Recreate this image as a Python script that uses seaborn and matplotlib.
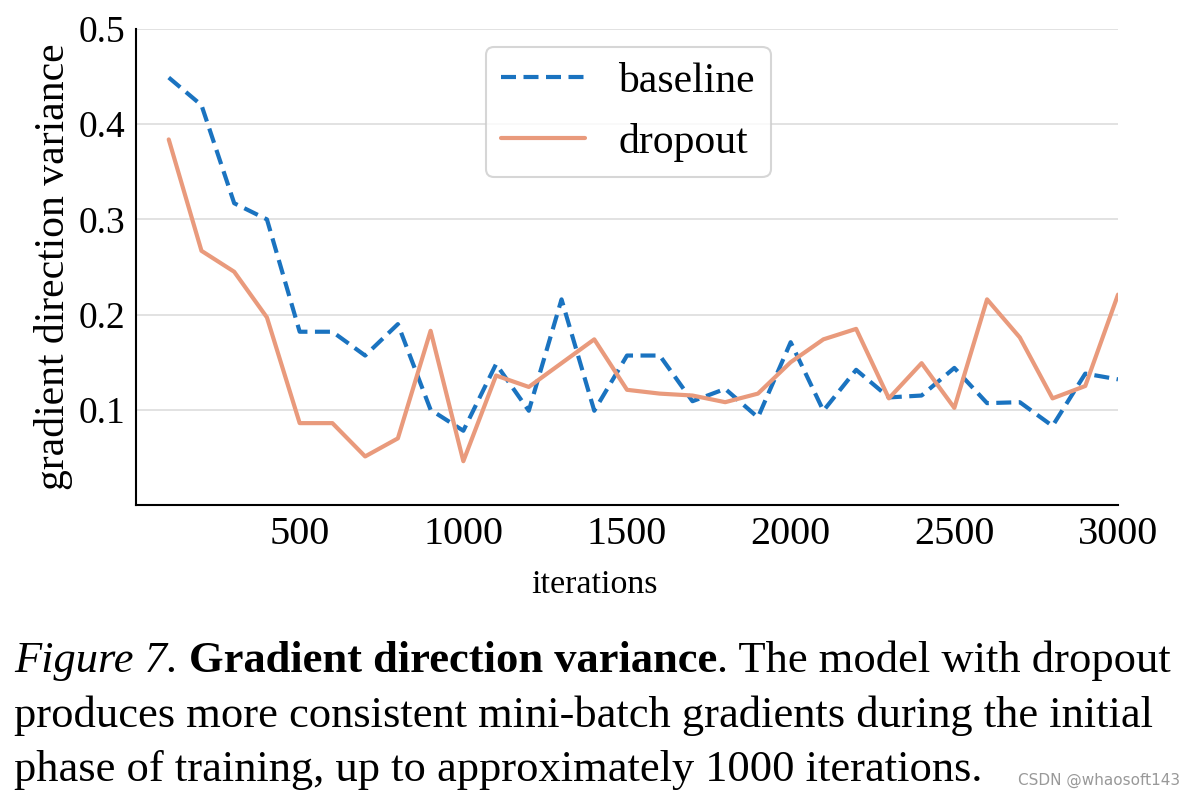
import matplotlib
matplotlib.use("Agg")
import matplotlib.pyplot as plt
import seaborn as sns
import pandas as pd

# values
iterations = [100, 200, 300, 400, 500, 600, 700, 800, 900, 1000,
              1100, 1200, 1300, 1400, 1500, 1600, 1700, 1800, 1900, 2000,
              2100, 2200, 2300, 2400, 2500, 2600, 2700, 2800, 2900, 3000]
baseline = [0.449, 0.420, 0.317, 0.300, 0.182, 0.182, 0.157, 0.190, 0.100, 0.078,
            0.148, 0.099, 0.216, 0.099, 0.157, 0.157, 0.109, 0.122, 0.092, 0.171,
            0.099, 0.142, 0.113, 0.115, 0.144, 0.107, 0.108, 0.083, 0.138, 0.132]
dropout = [0.384, 0.267, 0.245, 0.197, 0.086, 0.086, 0.051, 0.070, 0.183, 0.046,
           0.136, 0.124, 0.149, 0.174, 0.121, 0.117, 0.115, 0.108, 0.117, 0.150,
           0.174, 0.185, 0.112, 0.149, 0.102, 0.216, 0.176, 0.112, 0.125, 0.221]
yticks = [0.1, 0.2, 0.3, 0.4, 0.5]
xticks = [500, 1000, 1500, 2000, 2500, 3000]

df = pd.DataFrame({
    "iterations": iterations * 2,
    "variance": baseline + dropout,
    "model": ["baseline"] * len(iterations) + ["dropout"] * len(iterations),
})

sns.set_style("white", rc={"text.color": "black", "axes.labelcolor": "black",
                           "xtick.color": "black", "ytick.color": "black"})
plt.rcParams["font.family"] = ["Liberation Serif", "DejaVu Serif"]

fig = plt.figure(figsize=(11.96, 7.99), dpi=100)
ax = fig.add_axes([136 / 1196, 1 - 505 / 799, (1118 - 136) / 1196, (505 - 29) / 799])

sns.lineplot(data=df, x="iterations", y="variance", hue="model", style="model",
             palette={"baseline": "#1a73c0", "dropout": "#e99a7c"},
             dashes={"baseline": (3.6, 1.8), "dropout": ""},
             linewidth=3, ax=ax)

ax.set_xlim(0, 3000)
ax.set_ylim(0, 0.5)
ax.set_xticks(xticks)
ax.set_yticks(yticks)
ax.set_xticklabels([str(t) for t in xticks])
ax.set_yticklabels([str(t) for t in yticks])
ax.tick_params(direction="in", length=9, width=1.5, pad=8)
ax.tick_params(axis="x", labelsize=29)
ax.tick_params(axis="y", labelsize=27)
ax.yaxis.grid(True, color="#dddddd", linewidth=1.2)
ax.set_axisbelow(True)
for s in ["top", "right"]:
    ax.spines[s].set_visible(False)
for s in ["left", "bottom"]:
    ax.spines[s].set_color("black")
    ax.spines[s].set_linewidth(1.5)

ax.set_xlabel("iterations", fontsize=24.5)
ax.xaxis.set_label_coords((594 - 136) / 982, -0.135)
ax.set_ylabel("gradient direction variance", fontsize=30, labelpad=4)

leg = ax.legend(loc="upper left", bbox_to_anchor=(0.356, 0.963), fontsize=30,
                handlelength=2.0, handletextpad=0.8, borderpad=0.38,
                borderaxespad=0, labelspacing=0.52, frameon=True, fancybox=True,
                title=None)
leg.get_frame().set_edgecolor("#cccccc")
leg.get_frame().set_linewidth(1.5)

# caption below the chart, built from pieces so styles can mix
renderer = fig.canvas.get_renderer()
cap_size = 32

def put(x, y, s, **kw):
    t = fig.text(x, y, s, fontsize=cap_size, va="baseline", ha="left", **kw)
    bb = t.get_window_extent(renderer=renderer)
    return bb.x1 / fig.bbox.width

x = put(14 / 1196, 1 - 672 / 799, "Figure 7. ", style="italic")
x = put(x, 1 - 672 / 799, "Gradient direction variance", weight="bold")
put(x, 1 - 672 / 799, ". The model with dropout")
put(14 / 1196, 1 - 727 / 799, "produces more consistent mini-batch gradients during the initial")
put(14 / 1196, 1 - 781 / 799, "phase of training, up to approximately 1000 iterations.")
fig.text(1180 / 1196, 1 - 785 / 799, "CSDN @whaosoft143", fontsize=11, color="#999999",
         ha="right", va="baseline", family="DejaVu Sans")

fig.savefig("out.png", dpi=100)
